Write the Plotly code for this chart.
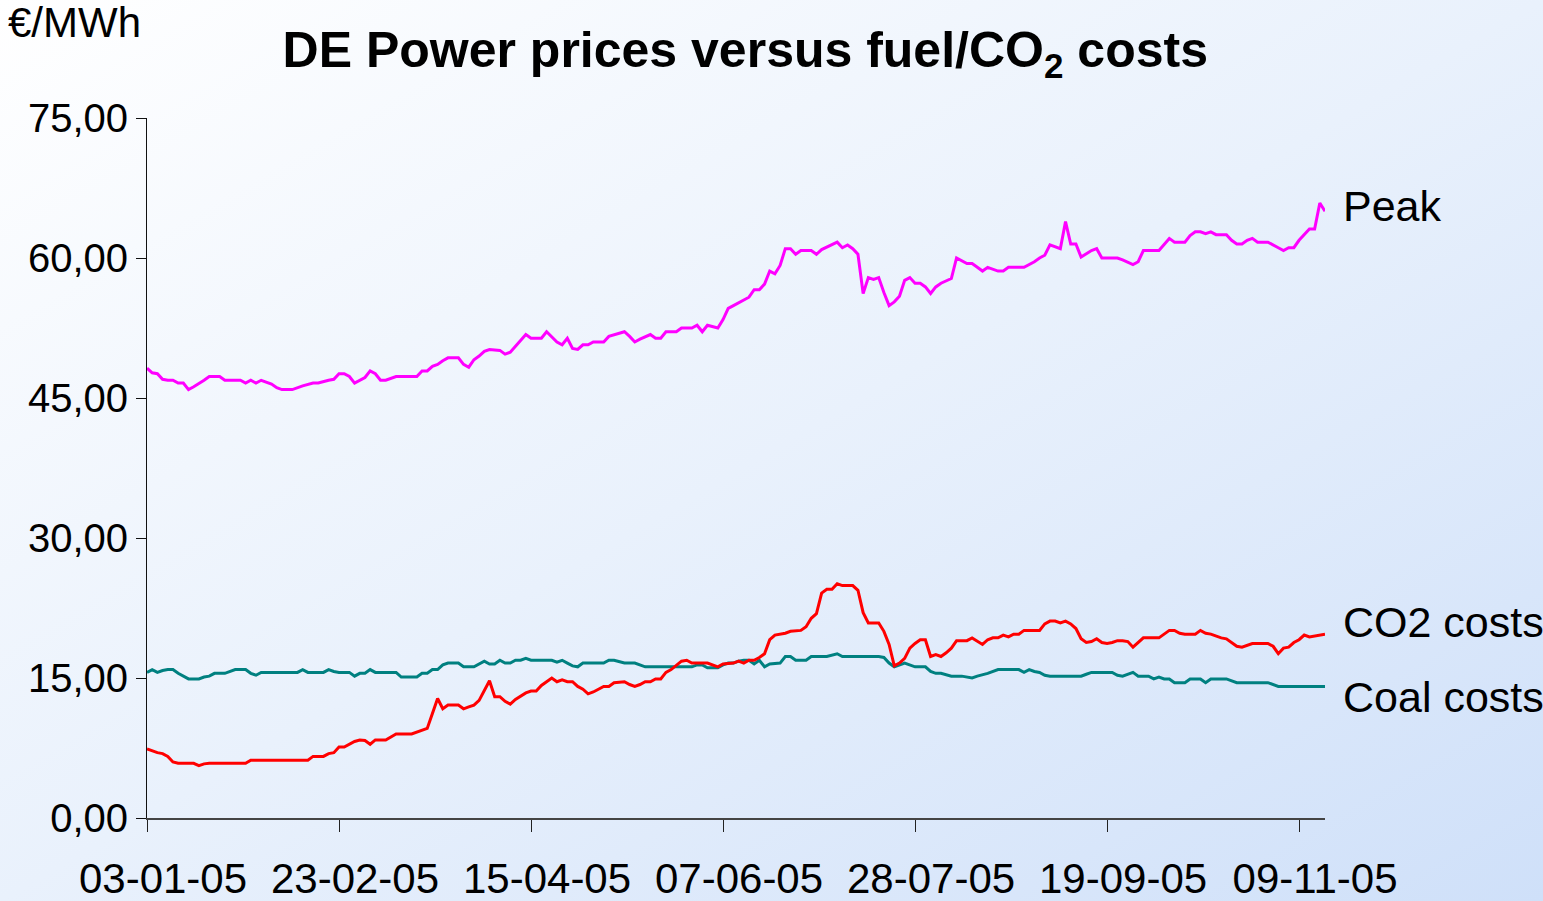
import base64
import plotly.graph_objects as go

# ---------------- data (trading-day index from 03-01-05) ----------------
peak_days = [0,1,2,3,4,5,6,7,8,9,11,12,14,15,18,19,20,21,22,24,25,26,28,29,30,32,33,35,36,37,38,39,40,42,43,44,45,46,48,52,53,54,55,56,57,58,60,61,62,63,64,65,66,68,69,70,72,73,74,76,77,79,80,81,82,83,84,85,86,88,89,92,93,94,95,97,98,99,100,102,103,105,106,107,108,110,111,112,113,114,116,117,118,119,120,121,122,123,124,125,126,128,129,130,132,133,134,135,136,137,138,139,140,141,142,143,144,145,146,147,148,149,150,151,152,153,155,156,158,159,160,161,162,164,165,166,169,171,172,173,174,175,176,177,178,179,180,182,183,184,187,188,190,191,192,195,197,198,200,201,202,203,204,205,206,208,209,210,211,212,213,214,216,218,219,220,221,222,223,224,225,226,227]
peak_vals = [48.2,47.7,47.6,47.0,46.9,46.9,46.6,46.6,45.9,46.2,46.9,47.3,47.3,46.9,46.9,46.6,46.9,46.6,46.9,46.5,46.1,45.9,45.9,46.1,46.3,46.6,46.6,46.9,47.0,47.6,47.6,47.3,46.6,47.2,47.9,47.6,46.9,46.9,47.3,47.3,47.9,47.9,48.4,48.6,49.0,49.3,49.3,48.6,48.3,49.1,49.5,50.0,50.2,50.1,49.7,49.9,51.2,51.8,51.4,51.4,52.1,51.0,50.7,51.4,50.3,50.2,50.7,50.7,51.0,51.0,51.6,52.1,51.6,51.0,51.3,51.8,51.4,51.4,52.1,52.1,52.5,52.5,52.8,52.1,52.8,52.5,53.4,54.6,54.9,55.2,55.8,56.6,56.6,57.2,58.6,58.3,59.2,61.0,61.0,60.4,60.8,60.8,60.4,60.9,61.4,61.7,61.1,61.4,61.0,60.4,56.2,57.9,57.7,57.9,56.3,54.9,55.3,55.9,57.6,57.9,57.3,57.3,56.9,56.2,56.9,57.3,57.8,60.0,59.4,59.4,59.0,58.6,59.0,58.6,58.6,59.0,59.0,59.6,60.0,60.3,61.4,61.2,61.0,63.9,61.5,61.5,60.1,60.8,61.0,60.0,60.0,59.8,59.3,59.6,60.8,60.8,62.1,61.7,61.7,62.4,62.8,62.8,62.6,62.8,62.5,62.5,61.9,61.5,61.5,61.9,62.1,61.7,61.7,61.1,60.8,61.1,61.1,61.9,62.5,63.1,63.1,65.9,65.0]

co2_days = [0,1,2,3,4,5,6,9,10,11,12,19,20,31,32,34,35,36,37,38,39,40,41,42,43,44,46,48,51,53,54,55,56,57,58,60,61,62,63,64,65,66,67,68,69,70,71,73,74,75,76,77,78,79,80,81,82,83,84,85,86,88,89,90,92,93,94,95,96,97,98,99,100,101,102,103,104,105,108,109,110,111,113,114,115,116,117,118,119,120,121,123,124,126,127,128,129,130,131,132,133,134,136,137,138,139,141,142,143,144,145,146,147,148,149,150,151,152,153,154,155,156,158,159,161,162,163,164,165,166,167,168,169,172,173,174,175,176,177,178,179,180,181,182,183,184,185,186,187,188,189,190,191,192,195,196,197,198,199,200,202,203,204,205,206,207,208,209,210,211,212,213,216,217,218,219,220,221,222,223,224,225,227]
co2_vals = [7.4,7.2,7.0,6.9,6.6,6.0,5.86,5.86,5.6,5.8,5.86,5.86,6.2,6.2,6.6,6.6,6.9,7.0,7.6,7.6,7.9,8.2,8.36,8.3,7.9,8.36,8.36,9.0,9.0,9.35,9.6,11.2,12.8,11.7,12.1,12.1,11.7,11.9,12.1,12.6,13.7,14.7,13.0,13.0,12.5,12.2,12.7,13.4,13.6,13.6,14.2,14.6,15.0,14.6,14.8,14.6,14.6,14.1,13.8,13.3,13.5,14.1,14.1,14.5,14.6,14.3,14.1,14.3,14.6,14.6,14.9,14.9,15.6,15.9,16.4,16.8,16.9,16.6,16.6,16.4,16.2,16.5,16.6,16.8,16.6,16.9,16.9,17.2,17.6,19.1,19.6,19.8,20.0,20.1,20.5,21.4,21.9,24.1,24.5,24.5,25.1,24.9,24.9,24.4,22.0,20.9,20.9,20.0,18.6,16.3,16.6,17.1,18.2,18.7,19.1,19.1,17.3,17.5,17.3,17.7,18.2,19.0,19.0,19.3,18.6,19.1,19.3,19.3,19.6,19.4,19.7,19.7,20.1,20.1,20.8,21.1,21.1,20.9,21.1,20.8,20.3,19.2,18.8,18.9,19.2,18.8,18.7,18.8,19.0,19.0,18.9,18.3,18.8,19.3,19.3,19.7,20.1,20.1,19.8,19.7,19.7,20.1,19.8,19.7,19.5,19.3,19.2,18.8,18.4,18.3,18.5,18.7,18.7,18.4,17.6,18.2,18.3,18.8,19.1,19.6,19.4,19.5,19.7]

coal_days = [0,1,2,3,4,5,6,8,10,11,12,13,15,17,19,20,21,22,29,30,31,34,35,36,37,39,40,41,42,43,44,48,49,52,53,54,55,56,57,58,60,61,63,65,66,67,68,69,70,71,72,73,74,78,79,80,81,82,83,84,88,89,90,92,94,95,96,105,106,107,108,110,111,112,113,114,115,116,117,118,119,120,122,123,124,125,127,128,131,133,134,141,142,143,144,146,148,150,151,152,153,155,157,159,160,162,164,168,169,170,171,172,173,174,180,181,182,186,187,188,189,190,191,193,194,195,196,197,198,200,201,203,204,205,208,210,216,218,227]
coal_vals = [15.6,15.9,15.6,15.8,15.9,15.9,15.5,14.9,14.9,15.1,15.2,15.5,15.5,15.9,15.9,15.5,15.3,15.6,15.6,15.9,15.6,15.6,15.9,15.7,15.6,15.6,15.2,15.5,15.5,15.9,15.6,15.6,15.1,15.1,15.5,15.5,15.9,15.9,16.4,16.6,16.6,16.2,16.2,16.8,16.5,16.5,16.9,16.6,16.6,16.9,16.9,17.1,16.9,16.9,16.7,16.9,16.6,16.3,16.2,16.6,16.6,16.9,16.9,16.6,16.6,16.4,16.2,16.2,16.4,16.4,16.1,16.1,16.4,16.6,16.6,16.8,16.9,16.9,16.5,16.9,16.2,16.5,16.6,17.3,17.3,16.9,16.9,17.3,17.3,17.6,17.3,17.3,17.2,16.6,16.2,16.6,16.2,16.2,15.7,15.5,15.5,15.2,15.2,15.0,15.2,15.5,15.9,15.9,15.6,15.9,15.7,15.6,15.3,15.2,15.2,15.4,15.6,15.6,15.3,15.2,15.4,15.6,15.2,15.2,14.9,15.1,14.9,14.9,14.5,14.5,14.9,14.9,14.5,14.9,14.9,14.5,14.5,14.1,14.1]

tick_days = [0, 37, 74, 111, 148, 185, 222]
tick_labels = ["03-01-05", "23-02-05", "15-04-05", "07-06-05", "28-07-05", "19-09-05", "09-11-05"]
y_ticks = [0, 15, 30, 45, 60, 75]
y_tick_labels = ["0,00", "15,00", "30,00", "45,00", "60,00", "75,00"]

series_names = ["Coal costs", "CO2 costs", "Peak"]

# ---------------- layout geometry ----------------
W, H = 1543, 901
ML, MR, MT, MB = 147, 218, 118, 83
FONT = "Liberation Sans, Arial, sans-serif"

fig = go.Figure()
fig.add_trace(go.Scatter(x=coal_days, y=coal_vals, mode="lines", name=series_names[0],
                         line=dict(color="#008080", width=3)))
fig.add_trace(go.Scatter(x=co2_days, y=co2_vals, mode="lines", name=series_names[1],
                         line=dict(color="#FF0000", width=3)))
fig.add_trace(go.Scatter(x=peak_days, y=peak_vals, mode="lines", name=series_names[2],
                         line=dict(color="#FF00FF", width=3)))

# gradient background as an SVG image spanning the whole figure
svg = (f"<svg xmlns='http://www.w3.org/2000/svg' width='{W}' height='{H}' preserveAspectRatio='none'>"
       "<defs><linearGradient id='g' x1='0' y1='0' x2='1' y2='1'>"
       "<stop offset='0' stop-color='#ffffff'/><stop offset='0.5' stop-color='#e9f1fc'/>"
       "<stop offset='1' stop-color='#cfe0f9'/></linearGradient></defs>"
       "<rect width='100%' height='100%' fill='url(#g)'/></svg>")
src = "data:image/svg+xml;base64," + base64.b64encode(svg.encode()).decode()
pw, ph = W - ML - MR, H - MT - MB
fig.add_layout_image(dict(source=src, xref="paper", yref="paper",
                          x=-ML / pw, y=1 + MT / ph, sizex=W / pw, sizey=H / ph,
                          sizing="stretch", xanchor="left", yanchor="top", layer="below"))

# end labels
end_font = dict(size=43, color="black", family=FONT)
fig.add_annotation(x=1, xref="paper", xshift=16, y=65.6, yref="y", text=series_names[2],
                   showarrow=False, xanchor="left", font=end_font)
fig.add_annotation(x=1, xref="paper", xshift=16, y=21.0, yref="y", text=series_names[1],
                   showarrow=False, xanchor="left", font=end_font)
fig.add_annotation(x=1, xref="paper", xshift=16, y=12.95, yref="y", text=series_names[0],
                   showarrow=False, xanchor="left", font=end_font)

# unit label
fig.add_annotation(x=0, xref="paper", xshift=-ML + 6, y=1, yref="paper", yshift=MT - 22,
                   text="€/MWh", showarrow=False, xanchor="left", yanchor="middle",
                   font=dict(size=42, color="black", family=FONT))

fig.update_layout(
    width=W, height=H,
    margin=dict(l=ML, r=MR, t=MT, b=MB),
    paper_bgcolor="#eef4fd",
    plot_bgcolor="rgba(0,0,0,0)",
    showlegend=False,
    title=dict(text="<b>DE Power prices versus fuel/CO<sub>2</sub> costs</b>",
               x=0.483, xanchor="center", y=0.945, yanchor="middle",
               font=dict(size=50, color="black", family=FONT)),
    xaxis=dict(range=[0, 227], tickmode="array", tickvals=tick_days, ticktext=tick_labels,
               showgrid=False, zeroline=False, showline=True, linecolor="#444", linewidth=2,
               ticks="outside", ticklen=12, tickcolor="#222", tickwidth=1,
               ticklabelshift=16, ticklabelstandoff=11, automargin=False,
               tickfont=dict(size=42, color="black", family=FONT)),
    yaxis=dict(range=[0, 75], tickmode="array", tickvals=y_ticks, ticktext=y_tick_labels,
               showgrid=False, zeroline=False, showline=True, linecolor="#111", linewidth=1,
               ticks="outside", ticklen=10, tickcolor="#111", tickwidth=1, automargin=False,
               tickfont=dict(size=40, color="black", family=FONT)),
)

fig.write_html("out.html", config={"displayModeBar": False},
               post_script="document.body.style.margin='0';")
